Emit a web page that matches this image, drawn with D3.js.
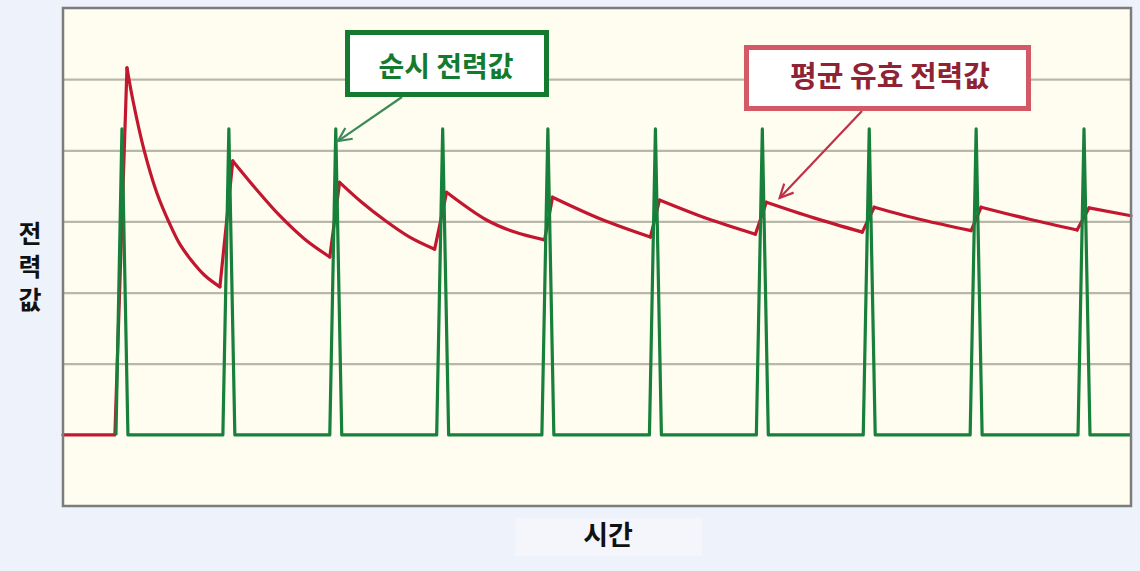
<!DOCTYPE html>
<html><head><meta charset="utf-8">
<script src="https://cdn.jsdelivr.net/npm/d3@7/dist/d3.min.js"></script>
<style>
html,body{margin:0;padding:0;background:#eef2fa;}
svg{display:block;}
text{font-family:"Noto Sans CJK KR","Noto Sans",sans-serif;font-weight:700;}
</style></head>
<body><svg id="c" width="1140" height="571"></svg>
<script>
// ---- data (time units 0..100, power value units) ----
const gridValues = [1, 2, 3, 4, 5];
const avgTimes  = [0, 4.86, 5.99, 6.55, 7.58, 8.79, 10.01, 10.94, 11.88, 13.28, 14.69,
                   15.90, 18.05, 20.30, 22.64, 24.98,
                   25.90, 27.97, 30.10, 32.46, 34.80,
                   35.92, 39.66, 42.30, 45.09,
                   45.84, 50.40, 55.00,
                   55.85, 60.30, 64.83,
                   65.86, 70.30, 74.84,
                   75.96, 80.50, 85.03,
                   85.97, 90.50, 94.95,
                   96.07, 100];
const avgValues = [0, 0, 5.16, 4.70, 4.01, 3.40, 2.96, 2.68, 2.48, 2.24, 2.08,
                   3.85, 3.46, 3.08, 2.75, 2.50,
                   3.55, 3.27, 3.02, 2.78, 2.61,
                   3.41, 3.02, 2.85, 2.74,
                   3.34, 3.03, 2.78,
                   3.30, 3.04, 2.82,
                   3.27, 3.05, 2.85,
                   3.20, 3.02, 2.87,
                   3.20, 3.03, 2.88,
                   3.19, 3.08];
const peakIdx   = [2, 11, 16, 21, 25, 28, 31, 34, 37, 40];
const troughIdx = [10, 15, 20, 24, 27, 30, 33, 36, 39, 41];
const spikeTimes = [5.52, 15.53, 25.54, 35.55, 45.40, 55.47, 65.48, 75.49, 85.50, 95.60];
const spikePeaks = [4.30, 4.30, 4.30, 4.30, 4.30, 4.30, 4.30, 4.30, 4.30, 4.30];
const spikeHalfWidth = 0.56;
const timeEnd = 100;
const labelInstant = "순시 전력값";
const labelAverage = "평균 유효 전력값";
const labelY = ["전", "력", "값"];
const labelX = "시간";

// ---- layout ----
const svg = d3.select("#c");
const L = 63, T = 8, R = 1131, B = 506;
const x = d3.scaleLinear().domain([0, 100]).range([L, R]);
const y = d3.scaleLinear().domain([-1, 6]).range([B, T]);

svg.append("rect").attr("x", 0).attr("y", 0).attr("width", 1140).attr("height", 571).attr("fill", "#eef2fa");
svg.append("rect").attr("x", L).attr("y", T).attr("width", R - L).attr("height", B - T).attr("fill", "#fefdf0");

// grid lines via axis
const grid = svg.append("g").attr("transform", `translate(${L},0)`)
  .call(d3.axisLeft(y).tickValues(gridValues).tickSize(-(R - L)).tickFormat(""));
grid.select(".domain").remove();
grid.selectAll(".tick line").attr("stroke", "#b9b7a9").attr("stroke-width", 2.2);

// average (red) line: straight rises, smooth decays
const avgData = avgTimes.map((t, i) => [t, avgValues[i]]);
const straight = d3.line().x(d => x(d[0])).y(d => y(d[1]));
const smooth = d3.line().x(d => x(d[0])).y(d => y(d[1])).curve(d3.curveCatmullRom.alpha(0.5));
const redG = svg.append("g").attr("fill", "none").attr("stroke", "#c2172f").attr("stroke-width", 3.2)
  .attr("stroke-linejoin", "round").attr("stroke-linecap", "round");
redG.append("path").attr("d", straight(avgData.slice(0, 3)));
peakIdx.forEach((p, k) => {
  redG.append("path").attr("d", smooth(avgData.slice(p, troughIdx[k] + 1)));
  if (k + 1 < peakIdx.length) {
    redG.append("path").attr("d", straight([avgData[troughIdx[k]], avgData[peakIdx[k + 1]]]));
  }
});

// instantaneous (green) line
const instData = [];
spikeTimes.forEach((t, i) => {
  instData.push([t - spikeHalfWidth, 0], [t, spikePeaks[i]], [t + spikeHalfWidth, 0]);
});
instData.push([timeEnd, 0]);
svg.append("path").datum(instData)
  .attr("d", straight)
  .attr("fill", "none").attr("stroke", "#17803a").attr("stroke-width", 3.2).attr("stroke-linejoin", "round");

// frame
svg.append("rect").attr("x", L).attr("y", T).attr("width", R - L).attr("height", B - T)
  .attr("fill", "none").attr("stroke", "#7c7c7c").attr("stroke-width", 2.5);

// arrows
function arrow(x1, y1, x2, y2, color) {
  svg.append("line").attr("x1", x1).attr("y1", y1).attr("x2", x2).attr("y2", y2)
    .attr("stroke", color).attr("stroke-width", 2.2);
  const a = Math.atan2(y1 - y2, x1 - x2), hl = 15, sp = 0.45;
  const p = [[x2 + hl * Math.cos(a + sp), y2 + hl * Math.sin(a + sp)], [x2, y2], [x2 + hl * Math.cos(a - sp), y2 + hl * Math.sin(a - sp)]];
  svg.append("path").attr("d", d3.line()(p)).attr("fill", "none").attr("stroke", color).attr("stroke-width", 2.2);
}
arrow(402, 97, x(25.74), y(4.13), "#3c8a58");
arrow(862, 111, x(67.1), y(3.33), "#c0304a");

// annotation boxes
svg.append("rect").attr("x", 347.5).attr("y", 32.5).attr("width", 199).attr("height", 62)
  .attr("fill", "#ffffff").attr("stroke", "#137a2f").attr("stroke-width", 5);
svg.append("text").attr("x", 446).attr("y", 69).attr("text-anchor", "middle").attr("dominant-baseline", "middle")
  .attr("font-size", 28).attr("fill", "#137a2f").text(labelInstant);
svg.append("rect").attr("x", 746.5).attr("y", 47.5).attr("width", 282).attr("height", 61)
  .attr("fill", "#ffffff").attr("stroke", "#d35966").attr("stroke-width", 5);
svg.append("text").attr("x", 890).attr("y", 79).attr("text-anchor", "middle").attr("dominant-baseline", "middle")
  .attr("font-size", 29).attr("fill", "#8e2333").text(labelAverage);

// axis labels
const yLab = svg.append("text").attr("x", 30).attr("y", 243).attr("text-anchor", "middle")
  .attr("font-size", 25).attr("fill", "#111");
labelY.forEach((c, i) => {
  yLab.append("tspan").attr("x", 30).attr("dy", i === 0 ? 0 : 33).text(c);
});
svg.append("rect").attr("x", 515).attr("y", 518).attr("width", 187).attr("height", 38).attr("fill", "#f4f6fb");
svg.append("text").attr("x", 608).attr("y", 538).attr("text-anchor", "middle").attr("dominant-baseline", "middle")
  .attr("font-size", 27).attr("fill", "#111").text(labelX);
</script></body></html>
